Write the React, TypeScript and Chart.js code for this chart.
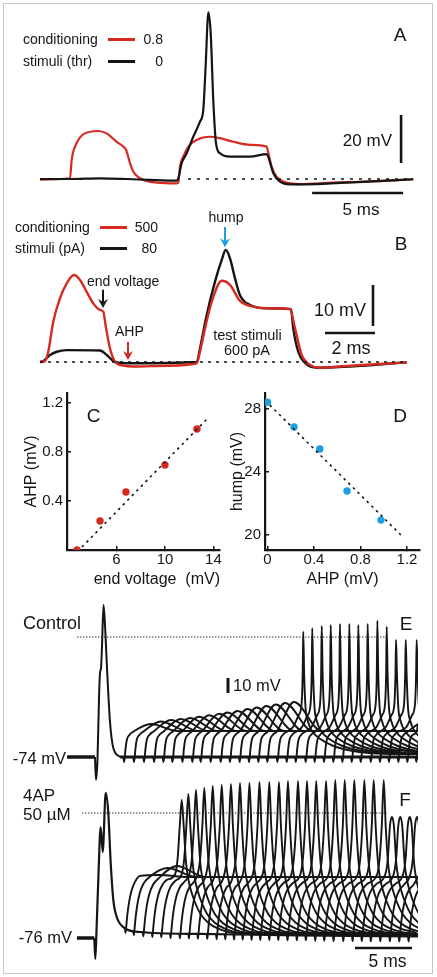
import React, { useEffect, useRef } from 'react';
import { Chart, registerables } from 'chart.js';

Chart.register(...registerables);

type P = [number, number];

const FONT = '"Liberation Sans", Arial, Helvetica, sans-serif';
const INK = '#151515';
const RED = '#d62a20';
const BLUE = '#1c9fe2';

// ===== Panel A: time (ms from sweep start) vs voltage (mV from rest) =====
const aBlackTrace: P[] = [
  [0, 0], [1.65, 0], [3.3, 0.3], [4.76, 0], [6.04, -0.4], [7.51, -0.7], [7.6, 0.3], [7.78, 6.5],
  [8.06, 10.7], [8.42, 17.6], [8.79, 23.9], [8.97, 28.7], [9.1, 46.8], [9.25, 69.4], [9.38, 60.7],
  [9.52, 32.9], [9.67, 14.9], [9.89, 10.7], [10.44, 9.3], [11.54, 9.3], [12.45, 10.4], [12.6, 7.9],
  [12.82, 2.4], [13.19, -1.1], [13.74, -2.2], [15.2, -2.1], [17.95, -1.1], [20.51, -0.1],
];
const aRedTrace: P[] = [
  [0, -0.3], [1.65, 0.3], [1.74, 7.9], [2.01, 14.9], [2.47, 19], [3.2, 20], [3.66, 19], [4.21, 15.5],
  [4.58, 13.5], [4.73, 12.1], [4.95, 6.5], [5.13, 3], [5.49, 0.3], [6.41, -1.5], [7.51, -1.8],
  [7.6, -1.5], [7.69, 5.1], [7.87, 9.3], [8.15, 13.5], [8.61, 16.3], [9.34, 17.6], [9.89, 17],
  [10.62, 15.5], [11.54, 14.2], [12.45, 13.5], [12.55, 10.7], [12.73, 5.1], [13.0, 1], [13.55, -1.5],
  [14.29, -2.1], [16.12, -1.5], [17.95, -1.1], [20.51, -0.1],
];
const aRestLine: P[] = [[8.13, 0], [20.33, 0]];
const aBar20mV: P[] = [[19.84, 6.67], [19.84, 26.67]];
const aBar5ms: P[] = [[14.95, -5.83], [19.95, -5.83]];

// ===== Panel B =====
const bRedTrace: P[] = [
  [0, 0], [0.2, 0.2], [0.33, 2.5], [0.53, 9.8], [0.8, 15.6], [1.07, 19.2], [1.36, 21.2], [1.6, 20],
  [1.87, 17.1], [2.13, 14.3], [2.4, 12.7], [2.53, 12.3], [2.64, 8.3], [2.8, 3.3], [3.0, 0.1],
  [3.33, -0.9], [3.73, -1.1], [5.07, -0.9], [6.27, -0.3], [6.4, 2.5], [6.6, 8.2], [6.87, 14.7],
  [7.27, 19.8], [7.6, 18.8], [8.0, 14.9], [8.53, 13.5], [9.07, 13.1], [10.0, 12.9], [10.2, 8.2],
  [10.47, 1.7], [10.8, -0.7], [11.2, -1.4], [12.4, -0.9], [14.67, -0.1],
];
const bBlackTrace: P[] = [
  [0, 0], [0.13, 0.2], [0.4, 1.7], [0.67, 2.5], [1.07, 2.9], [2.4, 2.8], [2.67, 1.7], [3.0, 0],
  [3.47, -0.3], [6.27, 0], [6.4, 3.3], [6.67, 11.5], [7.0, 19.6], [7.27, 24.9], [7.43, 27.3],
  [7.6, 25.3], [7.8, 20.4], [8.0, 16.3], [8.4, 13.9], [9.07, 13.1], [10.04, 12.9], [10.13, 8.2],
  [10.33, 2.5], [10.67, -0.6], [11.07, -1.4], [12.4, -1.1], [14.67, -0.1],
];
const bRestLine: P[] = [[0, 0], [14.67, 0]];
const bBar10mV: P[] = [[13.32, 8.78], [13.32, 18.78]];
const bBar2ms: P[] = [[11.4, 7.07], [13.4, 7.07]];
const bArrowMs = [2.52, 3.52, 7.4];
const bArrowFromMv = [17.6, 4.9, 32.9];
const bArrowToMv = [13.2, 0.5, 28.0];
const bArrowColors = [INK, RED, BLUE];

// ===== Panel C =====
const cEndVoltage = [2.74, 4.64, 6.78, 10.0, 12.64];
const cAhp = [0, 0.237, 0.473, 0.694, 0.988];
const cFit: P[] = [[3.15, 0.024], [13.55, 1.078]];
const cXTicks = [6, 10, 14];
const cYTicks = [0.4, 0.8, 1.2];

// ===== Panel D =====
const dAhp = [0, 0.228, 0.45, 0.684, 0.976];
const dHump = [28.44, 26.86, 25.46, 22.8, 20.95];
const dFit: P[] = [[0.02, 28.25], [1.166, 19.87]];
const dXTicks = [0, 0.4, 0.8, 1.2];
const dYTicks = [20, 24, 28];

// ===== Panel E (Control) : ms after conditioning stimulus, absolute mV =====
const eRestMv = -74;
const eEndMs = 28.25;
const eCondSpike: P[] = [
  [-0.09, -74], [0, -89.3], [0.13, -76], [0.26, -36], [0.35, -18], [0.44, -14.7],
  [0.53, 0.7], [0.66, 27.3], [0.79, 14], [0.94, -10.7], [1.23, -50.7], [1.52, -68], [2.11, -74],
];
const eRestBefore: P[] = [[-2.54, -74], [-0.09, -74]];
const eRestAfter: P[] = [[2.11, -74], [28.25, -74]];
const eOnsetMs = [
  2.40, 3.27, 4.15, 5.03, 5.85, 6.64, 7.52, 8.39, 9.12, 10.0, 10.88, 11.69, 12.54, 13.36, 14.18, 14.97,
  15.85, 16.67, 17.46, 18.33, 19.12, 19.94, 20.76, 21.55, 22.37, 23.16, 24.04, 24.85, 25.64, 26.46,
  27.25, 28.04,
];
const eRise: P[] = [[0, 0], [0.06, -3.3], [0.13, 0], [0.18, 4.7], [0.3, 11.3], [0.53, 14.7], [0.88, 16.9]];
const eHumpMv = [
  -52.0, -50.3, -49.3, -48.7, -48.0, -47.2, -46.2, -45.2, -44.3, -43.3, -42.0, -41.0, -40.0, -39.0,
  -38.0, -37.3,
];
const eHumpDelayMs = 2.4;
const eSettleMs = 4.8;
const ePlateauMv = -56.7;
const eSpikeMs = [18.18, 18.97, 19.8, 20.59, 21.4, 22.22, 23.01, 23.83, 24.68, 25.5, 26.32, 27.17, 28.13];
const eSpikePeakMv = [9.5, 11.8, 13.3, 14, 14.7, 14.7, 14, 14.7, 16.9, 12.9, 4, 4, 4];
const eSpikeBefore: P[] = [[-0.9, 20], [-0.4, 28], [-0.15, 35], [-0.05, 55]];
const eSpikeAfter: P[] = [[0.08, 55], [0.2, 33], [0.4, 24], [0.8, 17], [1.5, 12], [2.6, 7.5], [4, 4.5], [6, 2.5]];
const eTailMv = -72;
const eLateMv = -52;
const eThreshold: P[] = [[-1.67, 6], [25.53, 6]];
const eBar10mV: P[] = [[11.58, -31.33], [11.58, -21.33]];

// ===== Panel F (4AP 50 µM) =====
const fEndMs = 28.25;
const fCondSpike: P[] = [
  [-0.15, -76], [-0.06, -90], [0.05, -70], [0.2, -37.3], [0.41, -2], [0.59, -18.7],
  [0.85, 20.7], [1.08, 7.3], [1.29, -26], [1.52, -50.7], [1.82, -62], [2.39, -68.7], [3.86, -72],
  [9.12, -73.3], [17.89, -74.3], [28.25, -75],
];
const fRestBefore: P[] = [[-1.67, -76], [-0.15, -76]];
const fOnsetMs = [
  2.54, 3.27, 4.10, 4.89, 5.68, 6.49, 7.31, 8.10, 8.89, 9.71, 10.53, 11.29, 12.06, 12.82, 13.60, 14.36,
  15.15, 15.94, 16.75, 17.57, 18.36, 19.18, 19.97, 20.79, 21.64, 22.46, 23.27, 24.06, 24.89, 25.73,
  26.55, 27.37,
];
const fOnsetMv = [
  -69.3, -70.7, -71.5, -72.0, -72.3, -72.7, -72.9, -73.0, -73.2, -73.3, -73.5, -73.5, -73.7, -73.7,
  -73.9, -74.0, -74.0, -74.1, -74.2, -74.3, -74.3, -74.5, -74.5, -74.7, -74.7, -74.7, -74.8, -74.9,
  -74.9, -74.9, -75.0, -75.0,
];
const fRise: P[] = [[0, 0], [0.05, -3.3], [0.1, 0], [0.2, 8], [0.35, 16.7], [0.57, 24.7], [0.88, 30.7], [1.32, 34.7]];
const fHumpMv = [-34, -29.3, -28];
const fHumpDelayMs = 3.0;
const fSettleMs = 5.5;
const fPlateauMv = -35.3;
const fSpikeMs = [
  7.52, 8.10, 8.77, 9.50, 10.24, 11.03, 11.84, 12.63, 13.46, 14.34, 15.20, 16.05, 16.84, 17.72, 18.51,
  19.32, 20.18, 20.99, 21.82, 22.66, 23.54, 24.36, 25.24, 25.96, 26.69, 27.52, 28.16,
];
const fSpikePeakMv = [
  16, 20, 22.7, 24, 25.3, 26, 26.7, 27.3, 27.3, 28, 28, 28, 28.7, 28.7, 28.7, 28.7, 28.7, 29.3, 29.3,
  29.3, 29.3, 29.3, 29.3, 4.7, 4.7, 4.7, 4.7,
];
const fSpikeBefore: P[] = [[-0.58, -33.5], [-0.36, -23], [-0.17, -1]];
const fSpikeAfter: P[] = [[0.17, -1], [0.38, -26], [0.56, -36], [0.8, -44], [1.15, -52], [1.65, -60], [2.35, -66], [3.25, -70], [4.5, -72.5]];
const fTailMv = -73.5;
const fThreshold: P[] = [[-1.23, 7.33], [25.6, 7.33]];
const fBar5ms: P[] = [[22.72, -82.67], [27.72, -82.67]];

// ---------- helpers ----------
const shift = (shape: P[], t0: number, v0: number): P[] => shape.map(([dt, dv]) => [t0 + dt, v0 + dv] as P);

function buildE(): P[][] {
  return eOnsetMs.map((o, k) => {
    const p = shift(eRise, o, eRestMv);
    const j = k - eHumpMv.length;
    if (j < 0) {
      p.push([o + eHumpDelayMs, eHumpMv[k]], [o + eSettleMs, ePlateauMv], [eEndMs, ePlateauMv]);
    } else if (j < eSpikeMs.length) {
      const s = eSpikeMs[j];
      p.push(...shift(eSpikeBefore, s, eRestMv), [s, eSpikePeakMv[j]], ...shift(eSpikeAfter, s, eRestMv));
      if (p[p.length - 1][0] < eEndMs) p.push([eEndMs, eTailMv]);
    } else if (p[p.length - 1][0] < eEndMs) {
      p.push([eEndMs, eLateMv]);
    }
    return p;
  });
}

function buildF(): P[][] {
  return fOnsetMs.map((o, k) => {
    const p = shift(fRise, o, fOnsetMv[k]);
    const j = k - fHumpMv.length;
    if (j < 0) {
      p.push([o + fHumpDelayMs, fHumpMv[k]], [o + fSettleMs, fPlateauMv], [fEndMs, fPlateauMv]);
    } else if (j < fSpikeMs.length) {
      const s = fSpikeMs[j];
      p.push(...shift(fSpikeBefore, s, 0), [s, fSpikePeakMv[j]], ...shift(fSpikeAfter, s, 0));
      if (p[p.length - 1][0] < fEndMs) p.push([fEndMs, fTailMv]);
    } else if (p[p.length - 1][0] < fEndMs) {
      p.push([fEndMs, fPlateauMv]);
    }
    return p;
  });
}

const ds = (data: P[], color: string, width: number, dash: number[] = [], smooth = true) => ({
  data: data.map(([x, y]) => ({ x, y })),
  borderColor: color,
  backgroundColor: color,
  borderWidth: width,
  borderDash: dash,
  pointRadius: 0,
  fill: false,
  tension: 0,
  cubicInterpolationMode: smooth ? 'monotone' : 'default',
  borderCapStyle: 'butt',
  borderJoinStyle: 'round',
});

const traceOptions = (xMin: number, xMax: number, yMin: number, yMax: number, padRight = 0) => ({
  responsive: false,
  animation: false,
  events: [],
  layout: { padding: { left: 0, right: padRight, top: 0, bottom: 0 } },
  plugins: { legend: { display: false }, tooltip: { enabled: false } },
  scales: {
    x: { type: 'linear', display: false, min: xMin, max: xMax },
    y: { type: 'linear', display: false, min: yMin, max: yMax },
  },
});

const arrowPlugin = {
  id: 'bArrows',
  afterDatasetsDraw(chart: any) {
    const { ctx, scales } = chart;
    bArrowMs.forEach((t, i) => {
      const px = scales.x.getPixelForValue(t);
      const y0 = scales.y.getPixelForValue(bArrowFromMv[i]);
      const y1 = scales.y.getPixelForValue(bArrowToMv[i]);
      ctx.save();
      ctx.strokeStyle = bArrowColors[i];
      ctx.fillStyle = bArrowColors[i];
      ctx.lineWidth = 2;
      ctx.beginPath();
      ctx.moveTo(px, y0);
      ctx.lineTo(px, y1 - 6);
      ctx.stroke();
      ctx.beginPath();
      ctx.moveTo(px - 5, y1 - 9);
      ctx.lineTo(px, y1 - 6);
      ctx.lineTo(px + 5, y1 - 9);
      ctx.lineTo(px, y1);
      ctx.closePath();
      ctx.fill();
      ctx.restore();
    });
  },
};

const tickFont = { family: FONT, size: 15 };
const titleFont = { family: FONT, size: 16 };
const axisGrid = { drawOnChartArea: false, drawTicks: true, tickLength: -4, color: INK, lineWidth: 1.5 };
const axisBorder = { display: true, color: INK, width: 2.2 };

function makeAxis(opts: {
  min: number; max: number; ticks: number[]; fmt: (v: number) => string; title: string;
  size: number; horizontal: boolean; tickPad: number; titlePad: number; align?: string;
}) {
  return {
    type: 'linear',
    min: opts.min,
    max: opts.max,
    afterBuildTicks: (ax: any) => { ax.ticks = opts.ticks.map((value) => ({ value })); },
    afterFit: (ax: any) => {
      if (opts.horizontal) { ax.height = opts.size; ax.paddingLeft = 0; ax.paddingRight = 0; }
      else { ax.width = opts.size; ax.paddingTop = 0; ax.paddingBottom = 0; }
    },
    ticks: { font: tickFont, color: INK, padding: opts.tickPad, autoSkip: false, maxRotation: 0, callback: (v: number) => opts.fmt(v) },
    grid: axisGrid,
    border: axisBorder,
    title: {
      display: true, text: opts.title, font: titleFont, color: INK, align: opts.align || 'center',
      padding: opts.horizontal ? { top: 0, bottom: opts.titlePad } : { top: opts.titlePad, bottom: 0 },
    },
  };
}

const scatterOptions = (padRight: number, x: any, y: any) => ({
  responsive: false,
  animation: false,
  events: [],
  layout: { padding: { left: 0, right: padRight, top: 13, bottom: 0 } },
  plugins: { legend: { display: false }, tooltip: { enabled: false } },
  scales: { x, y },
});

// ---------- chart configs ----------
const makeA = () => ({
  type: 'line',
  data: {
    datasets: [
      ds(aRestLine, INK, 1.6, [3, 6], false),
      ds(aBlackTrace, INK, 2.2),
      ds(aRedTrace, RED, 2.2),
      ds(aBar20mV, INK, 2.6, [], false),
      ds(aBar5ms, INK, 2.6, [], false),
    ],
  },
  options: traceOptions(-2.198, 21.813, -8.75, 74.583),
});

const makeB = () => ({
  type: 'line',
  data: {
    datasets: [
      ds(bRestLine, INK, 1.6, [3, 5], false),
      ds(bRedTrace, RED, 2.4),
      ds(bBlackTrace, INK, 2.4),
      ds(bBar10mV, INK, 2.6, [], false),
      ds(bBar2ms, INK, 2.6, [], false),
    ],
  },
  options: traceOptions(-1.6, 15.88, -6.83, 40.73),
  plugins: [arrowPlugin],
});

const makeC = () => ({
  type: 'scatter',
  data: {
    datasets: [
      { ...ds(cFit, INK, 1.6, [2.5, 4], false), showLine: true },
      {
        data: cEndVoltage.map((x, i) => ({ x, y: cAhp[i] })),
        pointRadius: 3.7, pointBackgroundColor: RED, pointBorderWidth: 0, showLine: false,
      },
    ],
  },
  options: scatterOptions(
    10,
    makeAxis({ min: 1.918, max: 14.54, ticks: cXTicks, fmt: (v) => String(v), title: 'end voltage  (mV)', size: 50, horizontal: true, tickPad: 5, titlePad: 10.4, align: 'end' }),
    makeAxis({ min: 0, max: 1.282, ticks: cYTicks, fmt: (v) => v.toFixed(1), title: 'AHP (mV)', size: 67, horizontal: false, tickPad: 8, titlePad: 22.4 }),
  ),
});

const makeD = () => ({
  type: 'scatter',
  data: {
    datasets: [
      { ...ds(dFit, INK, 1.6, [2.5, 4], false), showLine: true },
      {
        data: dAhp.map((x, i) => ({ x, y: dHump[i] })),
        pointRadius: 3.7, pointBackgroundColor: BLUE, pointBorderWidth: 0, showLine: false,
      },
    ],
  },
  options: scatterOptions(
    17,
    makeAxis({ min: -0.0215, max: 1.312, ticks: dXTicks, fmt: (v) => (v === 0 ? '0' : v.toFixed(1)), title: 'AHP (mV)', size: 50, horizontal: true, tickPad: 5, titlePad: 10.4 }),
    makeAxis({ min: 19.05, max: 29.02, ticks: dYTicks, fmt: (v) => String(v), title: 'hump (mV)', size: 65, horizontal: false, tickPad: 8, titlePad: 28.4 }),
  ),
});

const makeE = () => ({
  type: 'line',
  data: {
    datasets: [
      ds(eRestBefore, INK, 3.5, [], false),
      ds(eRestAfter, INK, 3, [], false),
      ds(eCondSpike, INK, 2),
      ...buildE().map((p) => ds(p, INK, 1.9)),
      ds(eThreshold, '#333', 1.2, [1.5, 1.5], false),
      ds(eBar10mV, INK, 3, [], false),
    ],
  },
  options: traceOptions(-8.421, 28.246, -96, 37.33, 19),
});

const makeF = () => ({
  type: 'line',
  data: {
    datasets: [
      ds(fRestBefore, INK, 3.5, [], false),
      ds(fCondSpike, INK, 2.2),
      ...buildF().map((p) => ds(p, INK, 1.9)),
      ds(fThreshold, '#333', 1.2, [1.5, 1.5], false),
      ds(fBar5ms, INK, 2.6, [], false),
    ],
  },
  options: traceOptions(-8.421, 28.246, -100.67, 36, 19),
});

// ---------- components ----------
function ChartBox({ left, top, width, height, make }: { left: number; top: number; width: number; height: number; make: () => any }) {
  const ref = useRef<HTMLCanvasElement | null>(null);
  useEffect(() => {
    if (!ref.current) return undefined;
    const chart = new Chart(ref.current, make());
    return () => chart.destroy();
  }, []);
  return <canvas ref={ref} width={width} height={height} style={{ position: 'absolute', left, top, width, height }} />;
}

function Label({ x, y, text, size, align = 'left', color = INK }: { x: number; y: number; text: string; size: number; align?: 'left' | 'center' | 'right'; color?: string }) {
  const tx = align === 'left' ? '0' : align === 'center' ? '-50%' : '-100%';
  return (
    <div style={{ position: 'absolute', left: x, top: y, transform: `translate(${tx}, -50%)`, fontSize: size, lineHeight: 1, whiteSpace: 'pre', color, fontFamily: FONT }}>
      {text}
    </div>
  );
}

function Swatch({ x, y, color }: { x: number; y: number; color: string }) {
  return <div style={{ position: 'absolute', left: x, top: y - 1.5, width: 27, height: 3, background: color }} />;
}

export default function App() {
  return (
    <div style={{ position: 'absolute', left: 0, top: 0, width: 437, height: 977, background: '#fff', overflow: 'hidden', fontFamily: FONT }}>
      <div style={{ position: 'absolute', left: 3, top: 3, width: 428, height: 969, border: '1px solid #c6c6c6' }} />

      <ChartBox left={0} top={0} width={437} height={200} make={makeA} />
      <ChartBox left={0} top={195} width={437} height={195} make={makeB} />
      <ChartBox left={0} top={380} width={230} height={220} make={makeC} />
      <ChartBox left={200} top={380} width={237} height={220} make={makeD} />
      <ChartBox left={0} top={590} width={437} height={200} make={makeE} />
      <ChartBox left={0} top={770} width={437} height={205} make={makeF} />

      {/* Panel A */}
      <Label x={23} y={39} text="conditioning" size={14} />
      <Label x={23} y={61} text="stimuli (thr)" size={14} />
      <Swatch x={108} y={39} color={RED} />
      <Swatch x={108} y={61} color={INK} />
      <Label x={163} y={39} text="0.8" size={14} align="right" />
      <Label x={163} y={61} text="0" size={14} align="right" />
      <Label x={400} y={34} text="A" size={19} align="center" />
      <Label x={392} y={140} text="20 mV" size={17} align="right" />
      <Label x={361} y={209} text="5 ms" size={17} align="center" />

      {/* Panel B */}
      <Label x={15} y={227} text="conditioning" size={14} />
      <Label x={15} y={248} text="stimuli (pA)" size={14} />
      <Swatch x={100} y={227} color={RED} />
      <Swatch x={100} y={248} color={INK} />
      <Label x={158} y={227} text="500" size={14} align="right" />
      <Label x={157} y={248} text="80" size={14} align="right" />
      <Label x={401} y={243} text="B" size={19} align="center" />
      <Label x={226} y={217} text="hump" size={14} align="center" />
      <Label x={87} y={281} text="end voltage" size={14} />
      <Label x={115} y={331} text="AHP" size={14} />
      <Label x={247.5} y={335} text="test stimuli" size={14.5} align="center" />
      <Label x={247} y={350} text="600 pA" size={14.5} align="center" />
      <Label x={366} y={310} text="10 mV" size={18} align="right" />
      <Label x={351} y={348} text="2 ms" size={18} align="center" />

      {/* Panels C, D */}
      <Label x={93.5} y={415} text="C" size={19} align="center" />
      <Label x={400} y={415} text="D" size={19} align="center" />

      {/* Panel E */}
      <Label x={23} y={623} text="Control" size={18} />
      <Label x={406} y={623} text="E" size={19} align="center" />
      <Label x={66} y={758} text="-74 mV" size={16.5} align="right" />
      <Label x={233} y={685} text="10 mV" size={16.5} />

      {/* Panel F */}
      <Label x={23} y={795} text="4AP" size={17} />
      <Label x={23} y={814} text="50 µM" size={17} />
      <Label x={405} y={799} text="F" size={19} align="center" />
      <Label x={72} y={937} text="-76 mV" size={16.5} align="right" />
      <Label x={387.5} y={962} text="5 ms" size={17.5} align="center" />
    </div>
  );
}
